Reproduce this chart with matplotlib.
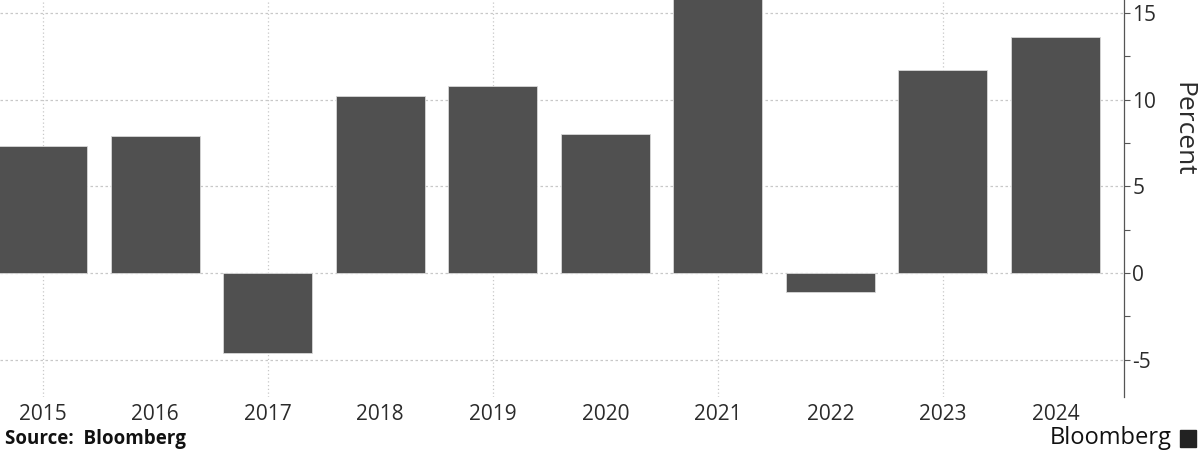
import matplotlib.pyplot as plt
from matplotlib.ticker import MultipleLocator
import numpy as np

years = ["2015", "2016", "2017", "2018", "2019", "2020", "2021", "2022", "2023", "2024"]
values = [7.3, 7.9, -4.6, 10.2, 10.8, 8.0, 17.0, -1.1, 11.7, 13.6]
y_ticks = [-5, 0, 5, 10, 15]

bar_color = "#505050"
text_color = "#2b2b2b"
plt.rcParams['font.family'] = ['Open Sans', 'DejaVu Sans']

fig = plt.figure(figsize=(12, 4.51), dpi=100)
ax = fig.add_axes([0, 1 - 397 / 451, 1124 / 1200, 397 / 451])

x = np.arange(len(years))
ax.bar(x, values, width=0.79, color=bar_color, edgecolor="#d8d8d8", linewidth=0.6, zorder=3)

ax.set_xlim(-0.38, 9.61)
ax.set_ylim(-7.15, 15.75)

# horizontal dashed grid, dotted vertical lines every other year
for v in y_ticks:
    ax.axhline(v, color="#c8c8c8", linestyle=(0, (2, 2)), linewidth=0.9, zorder=1)
for i in x[::2]:
    ax.axvline(i, color="#c8c8c8", linestyle=(0, (1, 2)), linewidth=0.9, zorder=1)

ax.set_xticks(x)
ax.set_xticklabels(years)
ax.tick_params(axis="x", length=0, pad=5, labelsize=15, labelcolor=text_color)

ax.yaxis.tick_right()
ax.set_yticks(y_ticks)
ax.set_yticklabels([str(t) for t in y_ticks])
ax.yaxis.set_minor_locator(MultipleLocator(2.5))
ax.tick_params(axis="y", which="major", direction="out", length=4, width=0.8,
               color="#555555", pad=2, labelsize=15, labelcolor=text_color)
ax.tick_params(axis="y", which="minor", direction="out", length=4, width=0.8, color="#555555")
ax.text(1.052, 0.675, "Percent", transform=ax.transAxes, rotation=270,
        ha="center", va="center", fontsize=19, color=text_color)

for side in ["top", "left", "bottom"]:
    ax.spines[side].set_visible(False)
ax.spines["right"].set_color("#555555")
ax.spines["right"].set_linewidth(0.9)

fig.text(0.004, 1 - 439 / 451, "Source:  Bloomberg", ha="left", va="center",
         fontsize=13.5, fontweight="bold", color="#111111")
fig.text(1172 / 1200, 1 - 438 / 451, "Bloomberg", ha="right", va="center",
         fontsize=17, color="#111111")
fig.patches.append(plt.Rectangle((1180 / 1200, 1 - 447 / 451), 16 / 1200, 17 / 451,
                                 transform=fig.transFigure, color="#222222"))

fig.savefig("out.png", dpi=100)
